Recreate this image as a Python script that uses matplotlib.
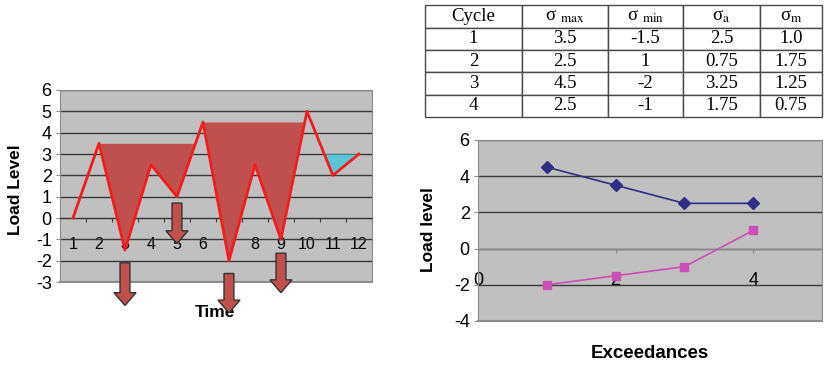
import numpy as np
import matplotlib
matplotlib.use("Agg")
import matplotlib.pyplot as plt
from matplotlib.patches import FancyArrow

plt.rcParams['font.family'] = ['Liberation Sans', 'DejaVu Sans']
plt.rcParams['mathtext.fontset'] = 'stix'
plt.rcParams['axes.unicode_minus'] = False

# load history
time = np.arange(1, 13)
load = np.array([0, 3.5, -1.5, 2.5, 1, 4.5, -2, 2.5, -1, 5, 2, 3])

# reservoirs: (first point, last point, water level)
reservoirs = [(2, 6, 3.5), (6, 10, 4.5), (10, 12, 3.0)]
reservoir_colors = ['#c0504d', '#c0504d', '#5bc5d8']

# drain arrows (x position, top, tip)
drain_x = [3, 5, 7, 9]
arrow_top = [-2.1, 0.7, -2.6, -1.65]
arrow_tip = [-4.1, -1.2, -4.45, -3.5]

# cycle table
col_labels = ['Cycle', 'σ $_{\\rm max}$', 'σ $_{\\rm min}$',
              'σ$_{\\rm a}$', 'σ$_{\\rm m}$']
cycles = ['1', '2', '3', '4']
sig_max = ['3.5', '2.5', '4.5', '2.5']
sig_min = ['-1.5', '1', '-2', '-1']
sig_a = ['2.5', '0.75', '3.25', '1.75']
sig_m = ['1.0', '1.75', '1.25', '0.75']

# exceedance curve
exceed = [1, 2, 3, 4]
peaks = [4.5, 3.5, 2.5, 2.5]
valleys = [-2, -1.5, -1, 1]

grid_c = '#3a3a3a'
frame_c = '#8c8c8c'

fig = plt.figure(figsize=(8.33, 3.66), dpi=100)

# --- load history with reservoirs ---
ax = fig.add_axes([0.072, 0.2295, 0.3745, 0.5246])
ax.set_facecolor('#c0c0c0')
ax.set_xlim(0.5, 12.5)
ax.set_ylim(-3, 6)
ax.set_yticks(range(-3, 7))
ax.yaxis.grid(True, color=grid_c, lw=1)
ax.set_axisbelow(True)
for s in ['top', 'right', 'left']:
    ax.spines[s].set_color(frame_c)
ax.spines['bottom'].set_position(('data', 0))
ax.spines['bottom'].set_color(grid_c)
ax.axhline(-3, color=frame_c, lw=1.5, clip_on=False)

ax.set_xticks(np.arange(0.5, 13, 1))
ax.set_xticklabels([])
ax.set_xticks(time, minor=True)
ax.set_xticklabels([str(t) for t in time], minor=True)
ax.tick_params(axis='x', which='major', direction='out', length=3, color=grid_c)
ax.tick_params(axis='x', which='minor', length=0, pad=14, labelsize=11.5)
ax.tick_params(axis='y', length=3, color=frame_c, labelsize=13, pad=3)

for (start, stop, level), c in zip(reservoirs, reservoir_colors):
    span = (time >= start) & (time <= stop) & (load <= level)
    ax.fill_between(time, load, level, where=span, interpolate=True,
                    color=c, lw=0, zorder=3)
ax.plot(time, load, color='#f21d1d', lw=2, zorder=4)

for x, top, tip in zip(drain_x, arrow_top, arrow_tip):
    ax.add_patch(FancyArrow(x, top, 0, tip - top, width=0.38, head_width=0.85,
                            head_length=0.6, length_includes_head=True,
                            fc='#c0504d', ec='#333333', lw=1,
                            clip_on=False, zorder=5))

ax.set_ylabel('Load Level', fontsize=12.5, fontweight='bold')
ax.yaxis.set_label_coords(-0.117, 0.48)
ax.set_xlabel('Time', fontsize=12.5, fontweight='bold')
ax.xaxis.set_label_coords(0.497, -0.12)

# --- cycle table ---
tab_ax = fig.add_axes([0.5102, 0.680, 0.4766, 0.306])
tab_ax.axis('off')
rows = list(zip(cycles, sig_max, sig_min, sig_a, sig_m))
tbl = tab_ax.table(cellText=rows, colLabels=col_labels, cellLoc='center',
                   colWidths=[97, 86, 75, 77, 62], bbox=[0, 0, 1, 1])
tbl.auto_set_font_size(False)
tbl.set_fontsize(13.5)
for cell in tbl.get_celld().values():
    cell.set_edgecolor('#4a4a4a')
    cell.set_linewidth(1)
    cell.get_text().set_fontfamily('Liberation Serif')

# --- exceedance plot ---
ax2 = fig.add_axes([0.5738, 0.123, 0.413, 0.4945])
ax2.set_facecolor('#c0c0c0')
ax2.set_xlim(0, 5)
ax2.set_ylim(-4, 6)
ax2.set_yticks(range(-4, 7, 2))
ax2.set_xticks([0, 2, 4])
ax2.yaxis.grid(True, color=grid_c, lw=1)
ax2.set_axisbelow(True)
for s in ['top', 'right', 'left']:
    ax2.spines[s].set_color(frame_c)
ax2.spines['bottom'].set_position(('data', 0))
ax2.spines['bottom'].set_color(frame_c)
ax2.axhline(-4, color=frame_c, lw=1.5, clip_on=False)
ax2.tick_params(axis='x', length=3, color=frame_c, pad=14, labelsize=13)
ax2.tick_params(axis='y', length=3, color=frame_c, labelsize=13, pad=3)

ax2.plot(exceed, peaks, color='#2e2e86', marker='D', ms=6, lw=1.2, zorder=3)
ax2.plot(exceed, valleys, color='#cc4fb8', marker='s', ms=6, lw=1.2, zorder=3)

ax2.set_ylabel('Load level', fontsize=12.5, fontweight='bold')
ax2.yaxis.set_label_coords(-0.123, 0.503)
ax2.set_xlabel('Exceedances', fontsize=13.5, fontweight='bold')
ax2.xaxis.set_label_coords(0.5, -0.133)

fig.savefig('out.png', dpi=100)
